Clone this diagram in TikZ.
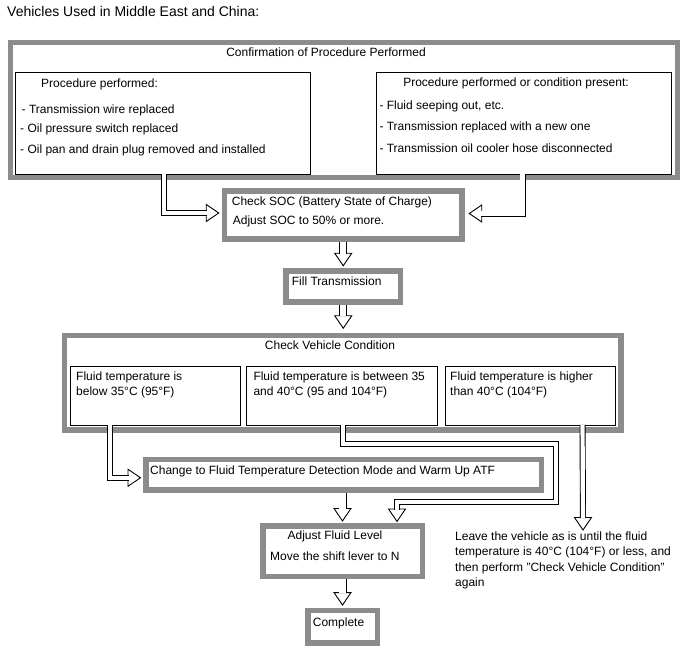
\documentclass[tikz,border=0pt]{standalone}
\usepackage{fontspec}
\setmainfont{Liberation Sans}
\usetikzlibrary{calc}
\definecolor{bgray}{RGB}{140,140,140}
\tikzset{
  gbox/.style={draw=bgray, line width=5.5pt, fill=white, inner sep=0pt, rectangle},
  bbox/.style={draw=black, line width=0.9pt, fill=white, inner sep=0pt, rectangle},
  txt/.style={inner sep=0pt, anchor=base west},
  ctxt/.style={inner sep=0pt, anchor=base},
  dbl/.style={draw=black, line width=0.9pt, double=white, double distance=4.2pt, line join=miter},
  dblw/.style={dbl, double distance=6.2pt},
  hhead/.pic={\draw[fill=white, line width=0.9pt, line join=miter] (0,0) -- (-12.5,8.5) -- (-12.5,-8.5) -- cycle;}
}
\begin{document}
\begin{tikzpicture}[x=1pt,y=-1pt, font=\fontsize{12}{14}\selectfont]
\useasboundingbox (0,0) rectangle (688,658);
\fill[white] (0,0) rectangle (688,658);

\node[txt, font=\fontsize{14}{16}\selectfont] (title) at (7,17) {Vehicles Used in Middle East and China:};

% Confirmation block
\node[gbox, minimum width=667pt, minimum height=135pt] (conf) at (344,110) {};
\node[ctxt] (conft) at (326,57) {Confirmation of Procedure Performed};
\node[bbox, minimum width=295pt, minimum height=101.3pt] (lp) at (162.5,123.35) {};
\node[bbox, minimum width=294.3pt, minimum height=101.3pt] (rp) at (523.85,123.35) {};
\node[txt] (lp0) at (41,87.3) {Procedure performed:};
\node[txt] (lp1) at (21.5,113.3) {- Transmission wire replaced};
\node[txt] (lp2) at (20,133) {- Oil pressure switch replaced};
\node[txt] (lp3) at (20,153.3) {- Oil pan and drain plug removed and installed};
\node[ctxt] (rp0) at (516,86.7) {Procedure performed or condition present:};
\node[txt] (rp1) at (379.3,110) {- Fluid seeping out, etc.};
\node[txt] (rp2) at (379.3,130.7) {- Transmission replaced with a new one};
\node[txt] (rp3) at (379.3,152.3) {- Transmission oil cooler hose disconnected};

% SOC
\node[gbox, minimum width=237.5pt, minimum height=48pt] (soc) at (343.25,215) {};
\node[txt] (soc1) at (231.7,205.7) {Check SOC (Battery State of Charge)};
\node[txt] (soc2) at (232.7,224) {Adjust SOC to 50\% or more.};

% Fill
\node[gbox, minimum width=114.5pt, minimum height=31pt] (fill) at (343.25,286.5) {};
\node[txt] (fillt) at (291.7,285.7) {Fill Transmission};

% Check vehicle condition
\node[gbox, minimum width=556.5pt, minimum height=94.5pt] (chk) at (342.75,382.75) {};
\node[ctxt] (chkt) at (330,349) {Check Vehicle Condition};
\node[bbox, minimum width=170pt, minimum height=58.3pt] (A) at (155,395.85) {};
\node[bbox, minimum width=191.7pt, minimum height=58.3pt] (B) at (341.85,395.85) {};
\node[bbox, minimum width=170pt, minimum height=58.3pt] (C) at (530,395.85) {};
\node[txt] (A1) at (76,380) {Fluid temperature is};
\node[txt] (A2) at (76,395) {below 35°C (95°F)};
\node[txt] (B1) at (253.3,380) {Fluid temperature is between 35};
\node[txt] (B2) at (253.3,395) {and 40°C (95 and 104°F)};
\node[txt] (C1) at (450,380) {Fluid temperature is higher};
\node[txt] (C2) at (450,395) {than 40°C (104°F)};

% Change mode
\node[gbox, minimum width=395.5pt, minimum height=30.5pt] (chg) at (343.5,474.75) {};
\node[txt] (chgt) at (150,474) {Change to Fluid Temperature Detection Mode and Warm Up ATF};

% Adjust
\node[gbox, minimum width=159.5pt, minimum height=50.5pt] (adj) at (342.5,551.25) {};
\node[ctxt] (adj1) at (335,539) {Adjust Fluid Level};
\node[txt] (adj2) at (270,560) {Move the shift lever to N};

% Complete
\node[gbox, minimum width=69.5pt, minimum height=32.5pt] (cmp) at (342.5,626.75) {};
\node[txt] (cmpt) at (312.7,626.7) {Complete};

% Note
\node[txt] (note1) at (455,540) {Leave the vehicle as is until the fluid};
\node[txt] (note2) at (455,555.5) {temperature is 40°C (104°F) or less, and};
\node[txt] (note3) at (455,571) {then perform "Check Vehicle Condition"};
\node[txt] (note4) at (455,586.5) {again};

% Connectors
\coordinate (t1) at ($(soc.west)+(-3,-2)$);
\pic at (t1) {hhead};
\draw[dbl, shorten >=11.9pt] ($(lp.south west)+(149.2,-0.6)$) |- (t1);

\coordinate (t2) at ($(soc.east)+(4.5,-1.5)$);
\pic[rotate=180] at (t2) {hhead};
\draw[dbl, shorten >=11.9pt] ($(rp.south west)+(146.3,-0.6)$) |- (t2);

\coordinate (t3) at ($(fill.north)+(0,-2.5)$);
\pic[rotate=-90] at (t3) {hhead};
\draw[dblw, shorten >=11.9pt] (soc.south) -- (t3);

\coordinate (t4) at ($(chk.north)+(0.5,-4.5)$);
\pic[rotate=-90] at (t4) {hhead};
\draw[dblw, shorten >=11.9pt] (fill.south -| t4) -- (t4);

\coordinate (t5) at ($(chg.west)+(-2.5,3)$);
\pic at (t5) {hhead};
\draw[dbl, shorten >=11.9pt] ($(A.south west)+(40.8,-0.6)$) |- (t5);

\coordinate (t6) at ($(adj.north)+(54.5,-1.8)$);
\coordinate (k1) at (556.3,444.2);
\coordinate (k2) at ($(t6)+(0,-19.2)$);
\pic[rotate=-90] at (t6) {hhead};
\draw[dbl, shorten >=11.9pt] ($(B.south west)+(97.8,-0.6)$) |- (k1) |- (k2) -- (t6);

\coordinate (t7) at (583,530);
\pic[rotate=-90] at (t7) {hhead};
\draw[dbl, shorten >=11.9pt] ($(C.south west)+(138,-0.6)$) -- (t7);

\coordinate (t8) at ($(adj.north)+(0,-2.3)$);
\pic[rotate=-90] at (t8) {hhead};
\draw[dblw, shorten >=11.9pt] (chg.south -| t8) -- (t8);

\coordinate (t9) at ($(cmp.north)+(0,-2.7)$);
\pic[rotate=-90] at (t9) {hhead};
\draw[dblw, shorten >=11.9pt] (adj.south) -- (t9);
\end{tikzpicture}
\end{document}
